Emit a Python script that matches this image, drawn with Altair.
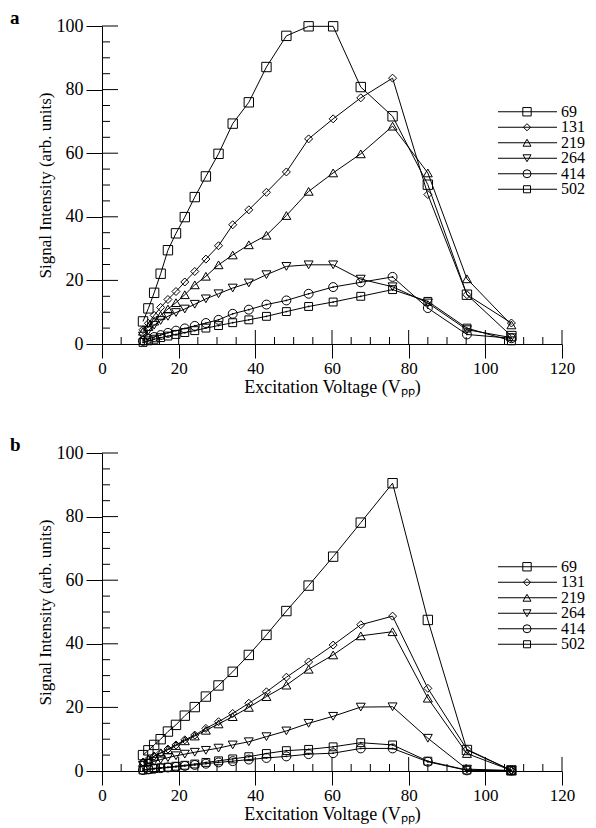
import altair as alt
import pandas as pd

# ---------------- data ----------------
voltage = [10.7, 12.1, 13.6, 15.3, 17.2, 19.3, 21.6, 24.2, 27.1, 30.4, 34.1,
           38.3, 42.9, 48.1, 53.9, 60.3, 67.5, 75.8, 85.0, 95.2, 106.8]
series_names = ["69", "131", "219", "264", "414", "502"]

a69 = [7.1, 11.2, 16.1, 22.1, 29.5, 34.8, 39.9, 46.2, 52.7, 59.8, 69.3, 76.0, 87.1, 96.9, 99.9, 99.9, 80.8, 71.6, 50.1, 15.5, 2.5]
a131 = [4.5, 6.5, 9.0, 11.5, 14.0, 16.5, 19.5, 22.8, 26.7, 30.9, 37.5, 42.2, 47.7, 54.1, 64.5, 70.8, 77.4, 83.6, 47.0, 15.5, 6.6]
a219 = [4.0, 5.5, 7.2, 9.0, 11.0, 13.0, 15.5, 18.6, 21.3, 24.9, 28.0, 31.2, 34.2, 40.4, 48.0, 53.8, 59.8, 68.5, 53.8, 20.5, 6.0]
a264 = [2.5, 4.2, 5.9, 7.4, 8.7, 9.9, 11.0, 12.5, 14.2, 15.8, 17.6, 19.2, 21.8, 24.4, 24.9, 24.9, 20.4, 18.0, 12.9, 4.5, 2.0]
a414 = [1.0, 1.6, 2.2, 2.8, 3.5, 4.2, 4.9, 5.7, 6.6, 7.6, 9.5, 10.8, 12.4, 13.7, 15.8, 17.9, 19.4, 21.1, 11.3, 3.0, 1.8]
a502 = [0.5, 1.0, 1.5, 2.0, 2.5, 3.0, 3.6, 4.2, 5.0, 5.8, 6.7, 7.6, 8.7, 10.2, 11.8, 13.2, 15.0, 17.1, 13.4, 5.0, 1.0]

b69 = [5.0, 6.5, 8.2, 10.0, 12.4, 14.5, 17.4, 20.1, 23.4, 26.9, 31.2, 36.5, 42.8, 50.3, 58.3, 67.4, 78.1, 90.5, 47.5, 6.6, 0.2]
b131 = [2.8, 3.7, 4.7, 5.7, 6.9, 8.2, 9.8, 11.3, 13.4, 15.5, 18.1, 21.3, 24.9, 29.5, 34.3, 39.6, 46.0, 48.7, 26.0, 6.8, 0.2]
b219 = [2.7, 3.6, 4.6, 5.6, 6.7, 8.0, 9.5, 11.0, 12.8, 14.8, 17.1, 20.0, 23.4, 27.0, 32.0, 36.5, 42.5, 43.8, 22.9, 5.5, 0.2]
b264 = [1.8, 2.4, 3.0, 3.6, 4.2, 4.8, 5.3, 5.9, 6.5, 7.2, 8.2, 9.2, 10.8, 12.6, 15.0, 17.2, 20.1, 20.2, 10.3, 0.6, 0.1]
b414 = [0.3, 0.5, 0.7, 0.9, 1.1, 1.3, 1.6, 1.9, 2.3, 2.7, 3.1, 3.6, 4.1, 4.6, 5.3, 5.6, 7.1, 7.1, 2.9, 0.2, 0.1]
b502 = [0.3, 0.5, 0.8, 1.0, 1.2, 1.5, 1.8, 2.2, 2.7, 3.2, 3.8, 4.5, 5.5, 6.4, 6.8, 7.6, 8.9, 8.2, 3.1, 0.3, 0.2]

x_major = [0, 20, 40, 60, 80, 100, 120]
x_minor = [5, 10, 15, 25, 30, 35, 45, 50, 55, 65, 70, 75, 85, 90, 95, 105, 110, 115]
y_major = [0, 20, 40, 60, 80, 100]
y_minor = [5, 10, 15, 25, 30, 35, 45, 50, 55, 65, 70, 75, 85, 90, 95]

panel_a = {"69": a69, "131": a131, "219": a219, "264": a264, "414": a414, "502": a502}
panel_b = {"69": b69, "131": b131, "219": b219, "264": b264, "414": b414, "502": b502}

# ---------------- style ----------------
FONT = "Liberation Serif"
W, H = 460, 318
shapes = ["square", "diamond", "triangle-up", "triangle-down", "circle", "square"]
sizes = [88, 64, 80, 80, 80, 62]


def long_df(panel):
    rows = []
    for s in series_names:
        for v, i in zip(voltage, panel[s]):
            rows.append({"V": v, "I": i, "series": s})
    return pd.DataFrame(rows)


def make_panel(panel, letter, leg_top, leg_bottom):
    df = long_df(panel)
    xs = alt.Scale(domain=[0, 120], nice=False, zero=False)
    ys = alt.Scale(domain=[0, 100], nice=False, zero=False)
    x_axis = alt.Axis(values=x_major, title="Excitation Voltage (Vₚₚ)", tickSize=14,
                      labelPadding=2, labelFontSize=17, titlePadding=2, format="d", grid=False,
                      labelFlush=False, labelOverlap=False)
    y_axis = alt.Axis(values=y_major, title="Signal Intensity (arb. units)", tickSize=16,
                      labelPadding=3, titlePadding=2, format="d", grid=False,
                      labelOverlap=False, titleFontSize=17)
    X = alt.X("V:Q", scale=xs)
    Y = alt.Y("I:Q", scale=ys)
    base = alt.Chart(df)
    layers = [
        base.mark_line(color="black", strokeWidth=1).encode(
            x=alt.X("V:Q", scale=xs, axis=x_axis),
            y=alt.Y("I:Q", scale=ys, axis=y_axis),
            detail="series:N",
        )
    ]
    for s, shp, sz in zip(series_names, shapes, sizes):
        layers.append(
            base.transform_filter(alt.datum.series == s)
            .mark_point(shape=shp, size=sz, filled=False, color="black", strokeWidth=1, opacity=1)
            .encode(x=X, y=Y)
        )
    layers.append(
        base.transform_filter(alt.FieldOneOfPredicate(field="series", oneOf=["414", "502"]))
        .mark_circle(color="black", size=3, opacity=1)
        .encode(x=X, y=Y)
    )
    # inside tick marks
    layers.append(
        alt.Chart(pd.DataFrame({"V": x_major[1:]})).mark_rule(color="black", strokeWidth=1)
        .encode(x=X, y=alt.value(H), y2=alt.value(H - 14))
    )
    layers.append(
        alt.Chart(pd.DataFrame({"V": x_minor})).mark_rule(color="black", strokeWidth=1)
        .encode(x=X, y=alt.value(H), y2=alt.value(H - 7))
    )
    layers.append(
        alt.Chart(pd.DataFrame({"I": y_major[1:]})).mark_rule(color="black", strokeWidth=1)
        .encode(y=Y, x=alt.value(0), x2=alt.value(16))
    )
    layers.append(
        alt.Chart(pd.DataFrame({"I": y_minor})).mark_rule(color="black", strokeWidth=1)
        .encode(y=Y, x=alt.value(0), x2=alt.value(8))
    )
    inner = alt.layer(*layers)

    # legend drawn as its own layer
    leg_df = pd.DataFrame({"series": series_names})
    ly = alt.Y("series:N", scale=alt.Scale(domain=series_names, range=[leg_top, leg_bottom], padding=0),
               axis=None)
    leg_layers = [
        alt.Chart(leg_df).mark_rule(color="black", strokeWidth=1).encode(
            x=alt.value(396), x2=alt.value(455), y=ly)
    ]
    for s, shp, sz in zip(series_names, shapes, sizes):
        leg_layers.append(
            alt.Chart(leg_df).transform_filter(alt.datum.series == s)
            .mark_point(shape=shp, size=sz * 0.8, filled=False, color="black",
                        strokeWidth=1, opacity=1)
            .encode(x=alt.value(425), y=ly)
        )
    leg_layers.append(
        alt.Chart(leg_df).mark_text(align="left", baseline="middle", font=FONT, fontSize=16,
                                    color="black")
        .encode(x=alt.value(459), y=ly, text="series:N")
    )
    legend = alt.layer(*leg_layers)

    letter_txt = alt.Chart(pd.DataFrame({"t": [letter]})).mark_text(
        align="left", baseline="top", font=FONT, fontSize=19, fontWeight="bold", color="black"
    ).encode(x=alt.value(-92), y=alt.value(-17), text="t:N")

    return alt.layer(inner, legend, letter_txt).resolve_scale(y="independent").properties(
        width=W, height=H)


top = make_panel(panel_a, "a", 78, 171)
bottom = make_panel(panel_b, "b", 106, 199)

chart = alt.vconcat(top, bottom, spacing=109, bounds="flush").properties(
    padding={"left": 10, "top": 9, "right": 4, "bottom": 4}
).configure_view(stroke=None).configure_axis(
    labelFont=FONT, titleFont=FONT, labelFontSize=18, titleFontSize=18,
    titleFontWeight="normal", labelColor="black", titleColor="black",
    domainColor="black", tickColor="black", domainWidth=1, tickWidth=1,
)

chart.save("out.html", embed_options={"renderer": "svg", "actions": False})
